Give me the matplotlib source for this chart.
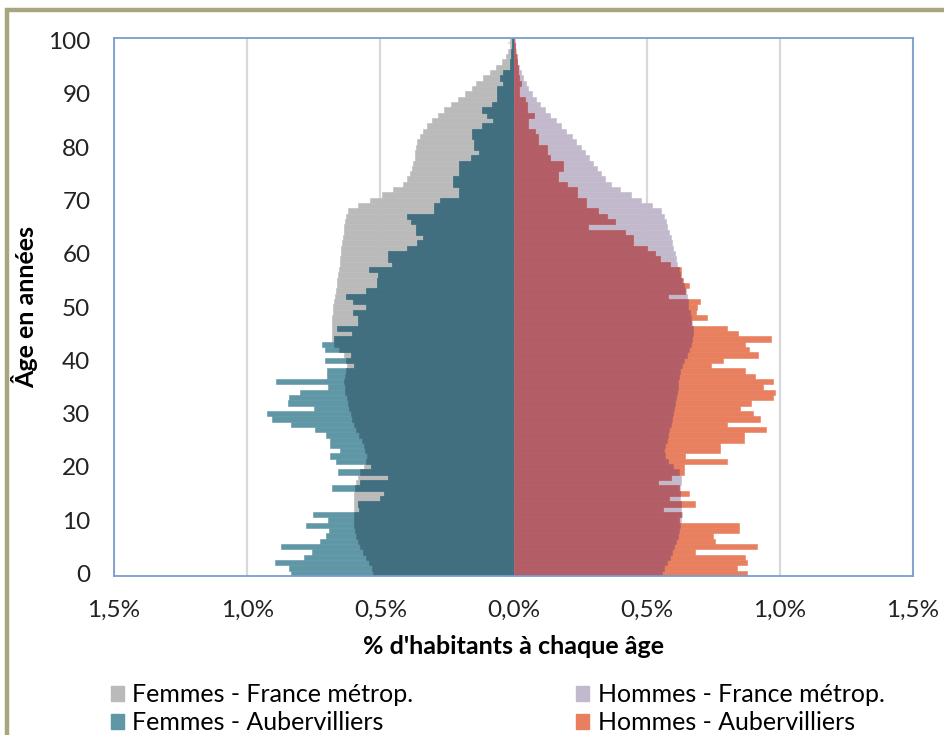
import numpy as np
import matplotlib
matplotlib.use('Agg')
from matplotlib import pyplot as plt
from matplotlib.patches import Patch, Rectangle
from matplotlib.ticker import FuncFormatter

plt.rcParams['font.family'] = ['Lato', 'DejaVu Sans']

ages = np.arange(101)

# % d'habitants a chaque age
femmes_france = [
    0.526, 0.532, 0.541, 0.553, 0.566, 0.576, 0.585, 0.591, 0.594, 0.597,
    0.598, 0.598, 0.597, 0.597, 0.598, 0.598, 0.594, 0.590, 0.585, 0.575,
    0.562, 0.553, 0.551, 0.556, 0.563, 0.570, 0.580, 0.590, 0.598, 0.605,
    0.612, 0.618, 0.623, 0.627, 0.631, 0.634, 0.637, 0.632, 0.630, 0.625,
    0.628, 0.635, 0.655, 0.675, 0.680, 0.682, 0.682, 0.681, 0.680, 0.678,
    0.676, 0.673, 0.670, 0.667, 0.664, 0.661, 0.658, 0.656, 0.653, 0.651,
    0.648, 0.646, 0.643, 0.641, 0.638, 0.636, 0.632, 0.628, 0.623, 0.582,
    0.538, 0.494, 0.453, 0.415, 0.401, 0.389, 0.382, 0.376, 0.371, 0.370,
    0.366, 0.361, 0.351, 0.338, 0.326, 0.307, 0.282, 0.261, 0.236, 0.207,
    0.182, 0.157, 0.139, 0.114, 0.089, 0.064, 0.045, 0.030, 0.020, 0.015, 0.012]
femmes_auber = [
    0.836, 0.844, 0.894, 0.788, 0.757, 0.873, 0.726, 0.703, 0.691, 0.778,
    0.698, 0.754, 0.579, 0.585, 0.503, 0.486, 0.680, 0.578, 0.472, 0.660,
    0.535, 0.665, 0.690, 0.653, 0.690, 0.690, 0.704, 0.745, 0.835, 0.905,
    0.926, 0.750, 0.848, 0.844, 0.803, 0.695, 0.892, 0.700, 0.700, 0.600,
    0.706, 0.610, 0.706, 0.720, 0.675, 0.607, 0.663, 0.582, 0.582, 0.601,
    0.553, 0.601, 0.628, 0.553, 0.513, 0.513, 0.507, 0.541, 0.457, 0.470,
    0.470, 0.400, 0.363, 0.341, 0.367, 0.367, 0.386, 0.400, 0.300, 0.300,
    0.276, 0.203, 0.203, 0.226, 0.226, 0.203, 0.203, 0.203, 0.160, 0.130,
    0.150, 0.150, 0.154, 0.157, 0.120, 0.078, 0.100, 0.120, 0.082, 0.063,
    0.063, 0.063, 0.038, 0.050, 0.038, 0.015, 0.015, 0.011, 0.010, 0.005, 0.004]
hommes_france = [
    0.556, 0.566, 0.578, 0.587, 0.596, 0.604, 0.612, 0.617, 0.622, 0.625,
    0.628, 0.631, 0.630, 0.628, 0.627, 0.627, 0.627, 0.628, 0.628, 0.622,
    0.600, 0.580, 0.567, 0.566, 0.570, 0.575, 0.580, 0.585, 0.590, 0.595,
    0.600, 0.603, 0.607, 0.610, 0.613, 0.616, 0.618, 0.620, 0.625, 0.632,
    0.640, 0.650, 0.660, 0.666, 0.670, 0.673, 0.673, 0.670, 0.666, 0.662,
    0.655, 0.655, 0.652, 0.648, 0.640, 0.632, 0.625, 0.620, 0.615, 0.610,
    0.605, 0.600, 0.595, 0.590, 0.585, 0.578, 0.572, 0.565, 0.555, 0.520,
    0.480, 0.440, 0.400, 0.365, 0.345, 0.328, 0.312, 0.298, 0.283, 0.268,
    0.252, 0.235, 0.218, 0.198, 0.178, 0.158, 0.138, 0.118, 0.099, 0.083,
    0.068, 0.056, 0.046, 0.037, 0.028, 0.021, 0.015, 0.011, 0.008, 0.005, 0.004]
hommes_auber = [
    0.875, 0.840, 0.877, 0.871, 0.681, 0.913, 0.755, 0.750, 0.845, 0.845,
    0.620, 0.630, 0.560, 0.683, 0.583, 0.658, 0.620, 0.541, 0.593, 0.640,
    0.640, 0.803, 0.643, 0.775, 0.775, 0.866, 0.866, 0.947, 0.800, 0.925,
    0.899, 0.850, 0.891, 0.975, 0.981, 0.937, 0.975, 0.906, 0.871, 0.743,
    0.787, 0.918, 0.885, 0.868, 0.965, 0.843, 0.800, 0.668, 0.725, 0.687,
    0.690, 0.700, 0.581, 0.643, 0.658, 0.637, 0.630, 0.630, 0.587, 0.550,
    0.530, 0.500, 0.450, 0.450, 0.420, 0.280, 0.380, 0.350, 0.318, 0.272,
    0.272, 0.237, 0.237, 0.200, 0.168, 0.168, 0.186, 0.186, 0.137, 0.125,
    0.125, 0.093, 0.093, 0.080, 0.053, 0.053, 0.078, 0.050, 0.050, 0.045,
    0.020, 0.020, 0.030, 0.020, 0.018, 0.018, 0.012, 0.012, 0.006, 0.004, 0.003]

ff = np.array(femmes_france)
fa = np.array(femmes_auber)
hf = np.array(hommes_france)
ha = np.array(hommes_auber)

grey = '#bababa'
teal_light = '#5f97a6'
teal_dark = '#426f80'
lavender = '#c3b9cc'
orange = '#e8805f'
red = '#b35e67'

fig = plt.figure(figsize=(9.44, 7.35), dpi=100)
ax = fig.add_axes([114/944, 1-576/735, (913-114)/944, (576-38)/735])

# femmes a gauche : France, Aubervilliers, puis la partie commune
kw = dict(height=1.0, linewidth=0.4)
ax.barh(ages, -ff, color=grey, edgecolor=grey, **kw)
ax.barh(ages, -fa, color=teal_light, edgecolor=teal_light, **kw)
ax.barh(ages, -np.minimum(ff, fa), color=teal_dark, edgecolor=teal_dark, **kw)
# hommes a droite
ax.barh(ages, hf, color=lavender, edgecolor=lavender, **kw)
ax.barh(ages, ha, color=orange, edgecolor=orange, **kw)
ax.barh(ages, np.minimum(hf, ha), color=red, edgecolor=red, **kw)

ax.set_xlim(-1.5, 1.5)
ax.set_ylim(-0.5, 100.5)
ax.set_axisbelow(True)
ax.xaxis.grid(True, color='#d9d9d9', linewidth=1.6)
ax.set_xticks([-1.5, -1.0, -0.5, 0, 0.5, 1.0, 1.5])
ax.xaxis.set_major_formatter(FuncFormatter(lambda v, p: ('%.1f%%' % abs(v)).replace('.', ',')))
ax.set_yticks(range(0, 101, 10))
ax.tick_params(axis='both', length=0, labelsize=17.5, colors='#222222')
ax.tick_params(axis='x', pad=17)
ax.tick_params(axis='y', pad=17)
for s in ax.spines.values():
    s.set_color('#7a9dd0')
    s.set_linewidth(1.3)

# petites graduations sur l'axe central
sec = ax.secondary_yaxis(0.5)
sec.set_alignment('left')
sec.set_yticks(np.arange(-0.5, 101, 5))
sec.tick_params(length=4, width=1.3, color='#dddddd', labelleft=False, labelright=False)
sec.spines['left'].set_visible(False)

ax.set_xlabel("% d'habitants à chaque âge", fontsize=18, fontweight='bold', labelpad=10)
ax.set_ylabel('Âge en années', fontsize=18, fontweight='bold', labelpad=7)

handles = [Patch(color=grey), Patch(color=teal_light), Patch(color=lavender), Patch(color=orange)]
labels = ['Femmes - France métrop.', 'Femmes - Aubervilliers',
          'Hommes - France métrop.', 'Hommes - Aubervilliers']
fig.legend(handles, labels, ncol=2, loc='upper left', bbox_to_anchor=(88/944, 1-661/735),
           frameon=False, fontsize=18, handlelength=0.52, handleheight=0.52,
           handletextpad=0.36, columnspacing=6.5, labelspacing=0.2)

# cadre olive
fig.patches.append(Rectangle((7/944, -0.2), 1.2, 1.2 - 10/735, transform=fig.transFigure,
                             fill=False, edgecolor='#a9a67f', linewidth=3.2))

fig.savefig('out.png', dpi=100)
